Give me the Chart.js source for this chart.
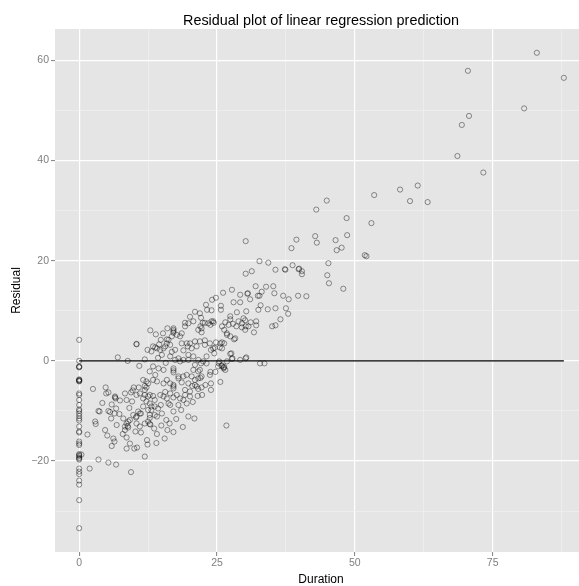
<!DOCTYPE html>
<html><head><meta charset="utf-8">
<script src="https://cdn.jsdelivr.net/npm/chart.js@4/dist/chart.umd.min.js"></script>
<style>
html,body{margin:0;padding:0;overflow:hidden;background:#fff;width:579px;height:586px}
#wrap{width:600px;height:586px;position:relative}
canvas{display:block}
</style></head>
<body><div id="wrap"><canvas id="c" width="600" height="586"></canvas></div>
<script>
// ---- data (Duration, Residual) ----
const zeroDurationResiduals = [4.2,0,-1.1,-1.2,-1.3,-3.7,-3.8,-3.9,-4.0,-4.1,-6.5,-6.8,-7.8,-8.8,-9.7,-10,-10.5,-11,-11.5,-11.9,-13.1,-14.1,-14.3,-16.1,-16.5,-16.8,-18.6,-18.8,-19,-19.3,-19.5,-19.7,-21.5,-22.1,-22.6,-23.9,-24.7,-27.8,-33.4];

const shortDuration = [[0.4,-18.7],[1.5,-14.7],[1.9,-21.5],[2.5,-5.6],[2.9,-12.1],[3.0,-12.6],[3.5,-10],[3.7,-10.1],[3.5,-19.7],[4.7,-13.8],[4.8,-5.3],[4.9,-6.5],[5.1,-14.9],[5.3,-10],[5.3,-20.3],[5.3,-6.3],[5.6,-10.2],[5.8,-11.5],[5.9,-17],[6.2,-15.5],[6.4,-16.1],[6.4,-10.5],[6.5,-7.1],[6.5,-7.3],[6.6,-7.5],[6.7,-9.5],[6.7,-20.7],[6.8,-12.8],[7.0,0.7],[7.4,-7.9],[8.0,-11.5],[8.3,-6.5],[8.3,-13.1],[8.3,-13.8],[8.6,-7.8],[8.6,-12.5],[8.6,-15.3],[8.6,-17.5],[8.8,0],[8.8,-13],[8.9,-12.1],[8.9,-13.3],[9.2,-16.5],[9.4,-6.3],[9.4,-22.2],[9.6,-8.1],[9.9,-5.3],[10.0,-17.5],[10.2,-14.1],[10.3,-11.3],[10.4,3.3],[10.4,3.4],[10.5,-17.3],[10.7,-10.1],[10.8,-5.3],[10.9,-1],[11.2,-14.3],[11.2,-10.5],[11.9,-12.5],[11.9,-19.1],[11.9,0.3],[12.4,-16.7],[12.4,2.2],[12.9,-12.7],[12.9,6.1],[14.1,-14.6],[9.7,-5.9],[10.4,-6.8],[11.0,-6.5],[11.6,-7.5],[11.9,-6.8],[12.5,-7.1],[12.8,-6.8],[13.4,-7.0],[12.2,-8.1],[12.8,-8.5],[13.7,-7.8],[13.7,-9.1],[13.1,-9.1],[12.5,-9.8],[11.6,-9.1],[11.0,-10.5],[10.4,-11.1],[9.8,-10.8],[9.2,-11.8],[12.8,-10.8],[13.1,-9.8],[14.1,-11.1],[12.5,-12.1],[12.8,-12.6],[10.4,-12.5],[11.0,-13.1],[12.8,-11.4],[13.7,-10.8],[11.6,-3.8],[12.2,-4.1],[11.9,-5],[12.2,-5.3],[11.9,-5.8],[12.5,-4.5],[13.4,-3.8],[14.1,-4.1],[12.8,-2.1],[13.8,-2.8],[13.4,-1.1],[13.1,1.9],[13.4,2.9],[13.8,2.7],[14.1,2.5],[14.7,2.2],[15.6,2.9],[16.2,4.2],[16.5,3.2],[17.4,2.2],[18.6,3.5],[12.3,-15.8],[13.6,-13.5],[14.0,-16.4],[7.3,-10.6],[7.9,-14.6],[9.1,-9.4],[4.2,-8.4],[5.9,-8.7]];

const midDuration = [[30.5,13.4],[32.4,13.0],[31.0,12.3],[28.0,11.7],[29.2,11.7],[25.7,11.0],[25.7,10.2],[24.0,10.1],[21.9,9.5],[27.4,8.9],[27.4,8.3],[28.6,9.7],[30.3,9.9],[29.8,8.5],[31.1,7.7],[32.1,7.9],[32.5,10.2],[26.5,7.7],[27.1,7.2],[27.9,7.4],[28.5,6.9],[28.9,7.9],[29.5,7.5],[30.1,6.2],[31.7,5.7],[30.7,6.9],[25.9,6.9],[26.3,6.2],[26.8,5.5],[27.4,4.9],[28.1,4.3],[24.4,7.6],[24.0,7.9],[23.4,7.5],[22.8,7.6],[22.0,6.9],[21.6,6.2],[22.2,5.7],[20.7,7.9],[19.8,7.5],[19.2,6.9],[19.2,7.6],[17.1,6.5],[17.1,6.2],[17.1,5.9],[17.1,5.6],[14.8,4.2],[15.9,4.3],[15.9,3.5],[16.8,4.9],[17.7,5.2],[18.3,4.9],[18.6,5.5],[19.5,3.5],[20.1,3.5],[19.7,2.9],[20.4,2.5],[21.0,3.9],[21.9,3.9],[21.3,2.9],[22.8,3.2],[23.7,3.5],[23.9,2.2],[24.8,3.7],[25.6,3.5],[25.9,2.5],[24.5,1.5],[25.4,-0.1],[26.2,-1.3],[26.2,-1.5],[26.3,-1.2],[25.2,-1.1],[25.9,-0.9],[27.4,1.4],[27.7,0.4],[29.2,0.2],[30.3,0.7],[26.8,-0.1],[15.3,2.5],[16.5,0.9],[17.4,0.2],[18.0,0.5],[18.3,-0.1],[18.9,0.2],[19.8,1.2],[19.8,0.2],[20.7,0.9],[21.6,0.2],[22.1,-0.5],[22.5,-0.1],[23.1,0.9],[23.1,-0.5],[21.0,-0.8],[21.9,-1.8],[21.6,-2.1],[20.7,-1.8],[17.1,-1.5],[17.1,-1.9],[17.1,-2.3],[15.3,-1.8],[14.4,-1.5],[15.3,-4.5],[15.9,-3.8],[16.5,-4.5],[17.1,-4.8],[17.1,-5.1],[17.1,-5.5],[18.0,-3.5],[18.6,-4.3],[18.9,-3.1],[19.5,-2.8],[19.2,-5.8],[19.8,-4.5],[20.5,-5.0],[21.0,-4.8],[21.3,-5.1],[21.6,-5.6],[22.2,-5.3],[20.1,-6.1],[18.0,-3.1],[21.6,-3.5],[22.2,-3.1],[20.4,-3.1],[21.0,-3.8],[23.7,-2.8],[23.9,-4.5],[14.7,-6.8],[15.3,-7.1],[15.9,-7.5],[15.6,-6.2],[16.5,-6.5],[17.1,-7.3],[17.7,-6.8],[18.3,-7.5],[18.9,-7.8],[19.5,-8.5],[19.2,-6.8],[20.1,-7.1],[16.5,-8.8],[16.2,-8.5],[14.8,-8.8],[14.3,-9.5],[17.1,-10.1],[18.0,-8.8],[19.8,-11.1],[20.9,-11.5],[26.7,-12.9],[27.8,0.5],[30.2,0.5],[32.8,-0.5],[33.6,-0.5],[30.2,23.9],[32.7,19.9],[34.3,19.6],[30.2,17.4],[31.3,17.9],[35.6,18.2],[37.4,18.2],[32.0,14.9],[33.9,14.8],[35.2,14.9],[30.6,13.5],[32.7,13.0],[33.1,13.8],[35.4,13.5],[32.9,11.1],[34.2,10.3],[35.6,10.5],[37.5,10.5],[37.9,9.4],[36.5,8.3],[35.0,6.9],[35.6,7.1],[32.1,7.1],[30.1,8.1],[30.2,6.9],[29.5,6.7],[22.8,4.1],[24.3,2.5],[24.6,2.6],[25.9,3.7],[26.3,3.5],[25.5,2.7],[26.8,5.2],[27.6,1.5],[22.4,7.6],[23.8,7.2],[24.3,7.9],[22.2,6.5],[28.3,4.5],[25.3,-0.5],[25.8,-1.0],[20.1,8.8],[21.0,9.8],[22.1,8.6],[23.2,10.2],[24.1,12.2],[23.0,11.2],[24.8,12.6],[26.1,13.6],[27.7,14.2],[29.2,13.2],[15.0,-10.5],[15.8,-11.8],[16.4,-12.5],[17.6,-11.6],[18.5,-9.8],[14.9,-12.9],[16.0,-13.8],[18.8,-13.2],[17.1,-14.2],[15.5,-15.5],[22.0,-3.4],[22.9,-4.8],[23.8,-2.2],[24.7,-2.2],[25.6,-4.2],[26.5,-1.8],[22.3,-6.8],[23.9,-5.8],[20.6,-8.2],[21.5,-7.0],[14.3,0.6],[15.0,1.2],[15.7,-0.4],[16.8,1.8],[18.9,2.1],[13.9,5.3],[15.2,5.5],[16.0,6.5],[14.5,3.3]];

const longDuration = [[38.5,22.5],[39.4,24.2],[42.8,24.9],[43.1,23.6],[46.5,24.1],[48.6,25.1],[46.7,22.1],[47.6,22.6],[38.7,19.1],[37.3,18.3],[39.8,18.3],[39.9,18.4],[40.4,17.9],[40.4,17.3],[45.2,19.5],[45.0,17.1],[45.3,15.5],[47.9,14.4],[37.0,13.0],[38.0,12.3],[39.7,13.0],[41.2,12.9],[44.9,32.0],[43.0,30.2],[48.5,28.5],[53.0,27.5],[53.5,33.1],[51.8,21.1],[52.1,20.9],[58.2,34.2],[61.4,35.0],[60.0,31.9],[63.2,31.7],[68.6,40.9],[73.3,37.6],[69.4,47.1],[70.7,48.9],[70.5,57.9],[80.7,50.4],[83.0,61.5],[87.9,56.5]];

const zeroLineX = [0, 87.9];
const zeroLineY = [0, 0];

const xTicks = [0, 25, 50, 75];
const xTickLabels = ['0', '25', '50', '75'];
const yTicks = [-20, 0, 20, 40, 60];
const yTickLabels = ['\u221220', '0', '20', '40', '60'];

const titleText = 'Residual plot of linear regression prediction';
const xTitle = 'Duration';
const yTitle = 'Residual';

// ---- build ----
const points = [];
zeroDurationResiduals.forEach(r => points.push({x: 0, y: r}));
[shortDuration, midDuration, longDuration].forEach(g => g.forEach(p => points.push({x: p[0], y: p[1]})));
const linePts = zeroLineX.map((x, i) => ({x: x, y: zeroLineY[i]}));

const FONT = "'Liberation Sans', Arial, Helvetica, sans-serif";
const isMaj = (arr, v) => arr.some(t => Math.abs(t - v) < 1e-6);

const bgPlugin = {
  id: 'bg',
  beforeDraw(chart) {
    const {ctx, chartArea: a} = chart;
    ctx.save();
    ctx.fillStyle = '#ffffff';
    ctx.fillRect(0, 0, chart.width, chart.height);
    ctx.fillStyle = '#e5e5e5';
    ctx.fillRect(a.left, a.top, a.right - a.left, a.bottom - a.top);
    ctx.restore();
  },
  afterDraw(chart) {
    const {ctx, chartArea: a} = chart;
    const cx = (a.left + a.right) / 2;
    ctx.save();
    ctx.fillStyle = '#000';
    ctx.textAlign = 'center';
    ctx.textBaseline = 'alphabetic';
    ctx.font = '14.4px ' + FONT;
    ctx.fillText(titleText, cx, 25);
    ctx.font = '12px ' + FONT;
    ctx.fillText(xTitle, cx, 583);
    ctx.translate(17, (a.top + a.bottom) / 2);
    ctx.rotate(-Math.PI / 2);
    ctx.textBaseline = 'middle';
    ctx.fillText(yTitle, 0, 0);
    ctx.restore();
  }
};

const gridCfg = (arr) => ({
  color: c => isMaj(arr, c.tick.value) ? '#ffffff' : '#f2f2f2',
  lineWidth: c => isMaj(arr, c.tick.value) ? 1.2 : 0.6,
  tickColor: c => isMaj(arr, c.tick.value) ? '#7f7f7f' : 'rgba(0,0,0,0)',
  tickWidth: 1,
  tickLength: 4,
  drawTicks: true
});

new Chart(document.getElementById('c'), {
  type: 'scatter',
  data: {
    datasets: [
      {type: 'line', data: linePts, borderColor: '#000', borderWidth: 1.2, pointRadius: 0, fill: false, order: 0},
      {type: 'scatter', data: points, pointStyle: 'circle', pointRadius: 2.6, pointBorderWidth: 0.8,
       borderColor: 'rgba(0,0,0,0.52)', backgroundColor: 'rgba(0,0,0,0)', order: 1}
    ]
  },
  options: {
    responsive: false, animation: false, devicePixelRatio: 1,
    layout: {padding: {top: 29, left: 0, right: 13, bottom: 0}},
    plugins: {legend: {display: false}, tooltip: {enabled: false}, title: {display: false}},
    scales: {
      x: {
        type: 'linear', min: -4.385, max: 92.1,
        afterFit(s) { s.height = 34; },
        border: {display: false},
        grid: gridCfg(xTicks),
        ticks: {
          stepSize: 12.5, includeBounds: false, autoSkip: false, maxRotation: 0, padding: 1,
          color: '#7f7f7f', font: {family: FONT, size: 10.5},
          callback: v => { const i = xTicks.findIndex(t => Math.abs(t - v) < 1e-6); return i >= 0 ? xTickLabels[i] : ''; }
        }
      },
      y: {
        type: 'linear', min: -38.15, max: 66.25,
        afterFit(s) { s.width = 55; },
        border: {display: false},
        grid: gridCfg(yTicks),
        ticks: {
          stepSize: 10, includeBounds: false, autoSkip: false, padding: 2,
          color: '#7f7f7f', font: {family: FONT, size: 10.5},
          callback: v => { const i = yTicks.findIndex(t => Math.abs(t - v) < 1e-6); return i >= 0 ? yTickLabels[i] : ''; }
        }
      }
    }
  },
  plugins: [bgPlugin]
});
</script>
</body></html>
